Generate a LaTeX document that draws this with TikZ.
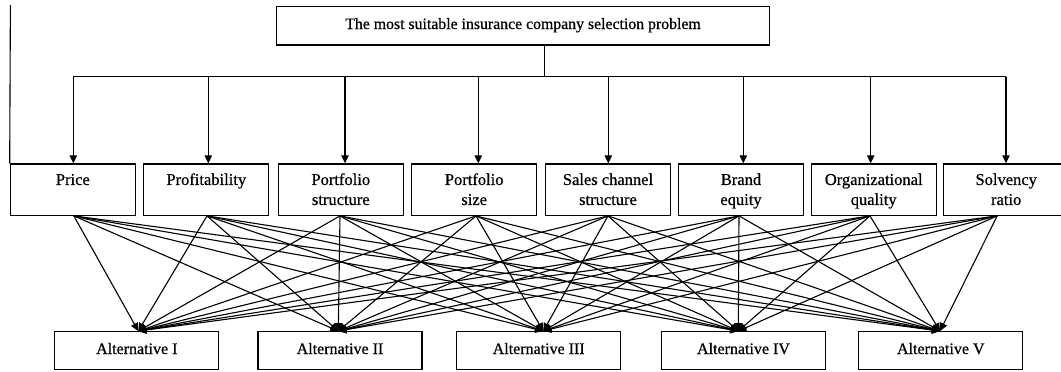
\documentclass[tikz,border=0pt]{standalone}
\usepackage{fontspec}
\setmainfont{Liberation Serif}[FakeBold=0.6]
\usetikzlibrary{arrows.meta}
\newcommand{\crittext}[1]{\parbox[c][51.3pt][t]{125pt}{\centering\fontsize{16.5}{20}\selectfont\rule{0pt}{21pt}#1}}
\begin{document}
\begin{tikzpicture}[x=1pt,y=-1pt,
  box/.style={draw, line width=1.3pt, inner sep=0pt},
  topbox/.style={box, minimum width=492.6pt, minimum height=38.3pt, text height=12pt, text depth=5.7pt, font=\fontsize{15.8}{20}\selectfont},
  crit/.style={box, minimum width=125pt, minimum height=51.3pt},
  alt/.style={box, minimum width=164pt, minimum height=37.6pt, text height=11.5pt, text depth=4.5pt, font=\fontsize{16}{20}\selectfont},
  conn/.style={line width=1.1pt, -{Triangle[length=8pt,width=7.5pt]}},
  plain/.style={line width=1.1pt}]
\useasboundingbox (0,0) rectangle (1061,372);
% top
\node[topbox] (t) at (523,25.85) {The most suitable insurance company selection problem};
% criteria
\node[crit] (c1) at (72.85,189.6) {\crittext{Price}};
\node[crit] (c2) at (206.3,189.6) {\crittext{Profitability}};
\node[crit] (c3) at (340.8,189.6) {\crittext{Portfolio\\structure}};
\node[crit] (c4) at (474.2,189.6) {\crittext{Portfolio\\size}};
\node[crit] (c5) at (608,189.6) {\crittext{Sales channel\\structure}};
\node[crit] (c6) at (741,189.6) {\crittext{Brand\\equity}};
\node[crit] (c7) at (873.7,189.6) {\crittext{Organizational\\quality}};
\node[crit] (c8) at (1006.2,189.6) {\crittext{Solvency\\ratio}};
% alternatives
\node[alt] (a1) at (136.8,350.5) {Alternative I};
\node[alt] (a2) at (340,350.5) {Alternative II};
\node[alt] (a3) at (538.7,350.5) {Alternative III};
\node[alt] (a4) at (743.5,350.5) {Alternative IV};
\node[alt] (a5) at (940.8,350.5) {Alternative V};
% left line
\coordinate (lt) at (10.4,5);
\draw[plain] (lt) -- (c1.north west);
% bus
\coordinate (s) at (544.3,76.7);
\coordinate (b1) at (73.3,76.7);
\coordinate (b2) at (208.3,76.7);
\coordinate (b3) at (345,76.7);
\coordinate (b4) at (478.3,76.7);
\coordinate (b5) at (608.3,76.7);
\coordinate (b6) at (743.3,76.7);
\coordinate (b7) at (870.7,76.7);
\coordinate (b8) at (1006,76.7);
\draw[plain] (s |- t.south) -- (s);
\draw[plain] (b1) -- (b8);
\foreach \i in {1,...,8} \draw[conn] (b\i) -- (b\i |- c\i.north);
% criteria to alternatives
\foreach \c/\cs in {1/1,2/0.7,3/-0.8,4/1.8,5/0,6/-2,7/-3.7,8/-9}
  \foreach \a/\as in {1/1.5,2/-1.7,3/4.6,4/-5.2,5/-0.8}
    \draw[conn] ([xshift=\cs pt]c\c.south) -- ([xshift=\as pt]a\a.north);
\end{tikzpicture}
\end{document}
